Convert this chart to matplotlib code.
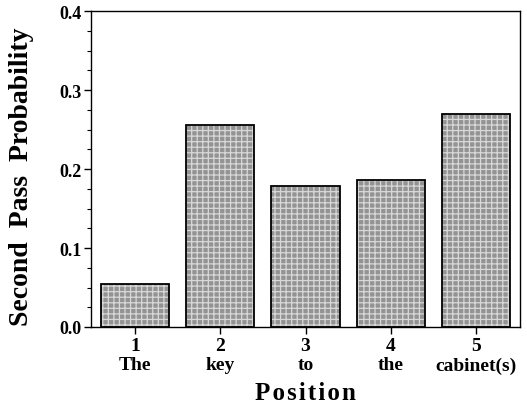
import matplotlib.pyplot as plt
from matplotlib.ticker import MultipleLocator

plt.rcParams['font.family'] = 'Liberation Serif'
plt.rcParams['font.weight'] = 'bold'
plt.rcParams['hatch.linewidth'] = 0.9

# data
positions = [1, 2, 3, 4, 5]
words = ['The', 'key', 'to', 'the', 'cabinet(s)']
probability = [0.055, 0.256, 0.178, 0.186, 0.270]

fig = plt.figure(figsize=(5.27, 4.10), dpi=100)
ax = fig.add_axes([0.1727, 0.2, 0.814, 0.7707])

# gray stipple-like fill, then black outline on top
ax.bar(positions, probability, width=0.8, color='#939393', edgecolor='#d8d8d8',
       hatch='+++', linewidth=0)
ax.bar(positions, probability, width=0.8, fill=False, edgecolor='black', linewidth=1.3)

ax.set_xlim(0.48, 5.52)
ax.set_ylim(0, 0.4)
ax.yaxis.set_major_locator(MultipleLocator(0.1))
ax.yaxis.set_minor_locator(MultipleLocator(0.025))
ax.yaxis.set_major_formatter(lambda v, p: '%.1f' % v)

labels = ['%d\n%s' % (p, w) for p, w in zip(positions, words)]
ax.set_xticks(positions)
ax.set_xticklabels(labels, fontsize=14, fontweight='bold', linespacing=1.2)
for t in ax.get_yticklabels():
    t.set_fontsize(13)
    t.set_fontweight('bold')

ax.tick_params(axis='both', which='major', direction='out', length=5, width=1, pad=2)
ax.tick_params(axis='y', which='minor', direction='out', length=3, width=0.8)

for s in ax.spines.values():
    s.set_linewidth(1)

ax.set_ylabel('Second  Pass  Probability', fontsize=20, fontweight='bold')
ax.yaxis.set_label_coords(-0.134, 0.48)
ax.set_xlabel('P o s i t i o n'.replace(' ', '\u200a'), fontsize=18, fontweight='bold', labelpad=5)

fig.savefig('out.png', dpi=100)
